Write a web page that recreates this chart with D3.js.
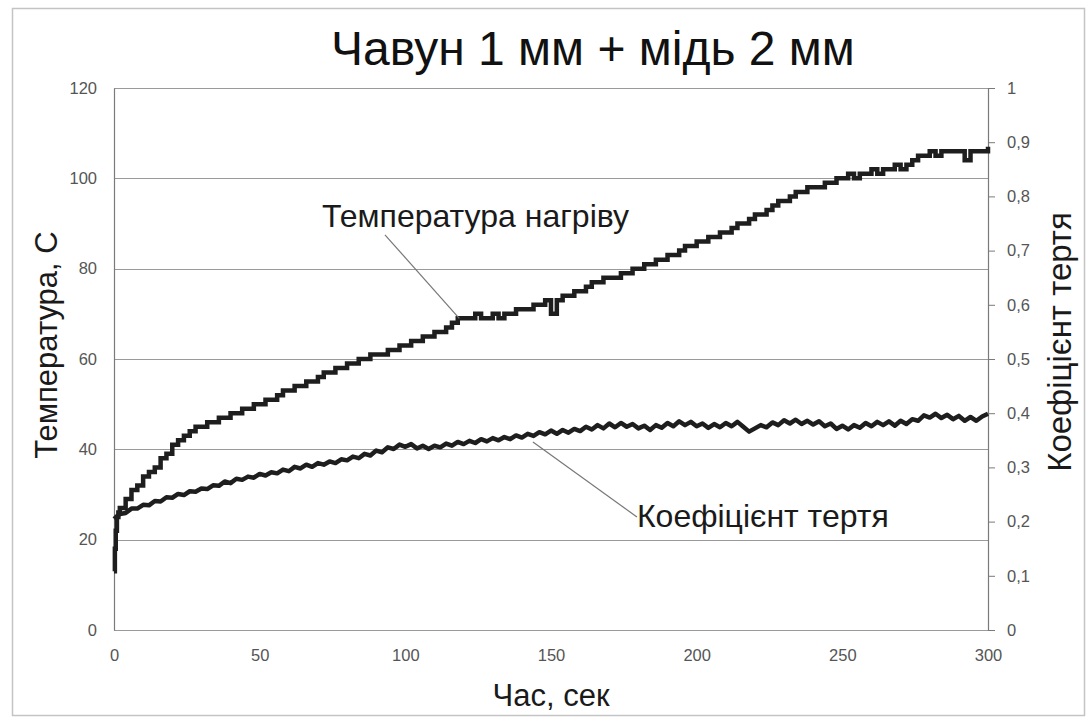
<!DOCTYPE html>
<html>
<head>
<meta charset="utf-8">
<script src="https://cdn.jsdelivr.net/npm/d3@7"></script>
<style>
  html, body { margin: 0; padding: 0; background: #fff; }
  svg { display: block; }
  text { font-family: "Liberation Sans", Arial, sans-serif; }
</style>
</head>
<body>
<script>
// ---- data ----
const chartTitle = "Чавун 1 мм + мідь 2 мм";
const xTitle = "Час, сек";
const yLeftTitle = "Температура, С";
const yRightTitle = "Коефіцієнт тертя";
const tempLabel = "Температура нагріву";
const coefLabel = "Коефіцієнт тертя";

const xTicks = [0, 50, 100, 150, 200, 250, 300];
const leftTicks = [0, 20, 40, 60, 80, 100, 120];
const rightTicks = [0, 0.1, 0.2, 0.3, 0.4, 0.5, 0.6, 0.7, 0.8, 0.9, 1];

// temperature (°C), time in seconds
const tempTimes = [0, 0.3, 0.6, 1, 1.5].concat(d3.range(2, 301, 2));
const temperature = [
  13, 18, 22, 25, 26,
  27, 29, 31, 32, 34, 35, 36, 38, 39, 41,
  42, 43, 44, 45, 45, 46, 46, 47, 47, 48,
  48, 49, 49, 50, 50, 51, 51, 52, 53, 53,
  54, 54, 55, 55, 56, 57, 57, 58, 58, 59,
  59, 60, 60, 61, 61, 61, 62, 62, 63, 63,
  64, 64, 65, 65, 66, 66, 67, 68, 69, 69,
  69, 70, 69, 69, 70, 69, 70, 70, 71, 71,
  71, 72, 72, 73, 70, 73, 74, 74, 75, 75,
  76, 77, 77, 78, 78, 78, 79, 79, 80, 80,
  81, 81, 82, 82, 83, 83, 84, 85, 85, 86,
  86, 87, 87, 88, 88, 89, 90, 90, 91, 92,
  92, 93, 94, 95, 95, 96, 97, 97, 98, 98,
  98, 99, 99, 100, 100, 101, 100, 101, 101, 102,
  101, 102, 102, 103, 102, 103, 104, 105, 105, 106,
  105, 106, 106, 106, 106, 104, 106, 106, 106, 107
];

// friction coefficient, every 2 s from 0 to 300
const coefTimes = d3.range(0, 301, 2);
const coefficient = [
  0.205, 0.214, 0.216, 0.224, 0.224, 0.231, 0.230, 0.238, 0.237, 0.245,
  0.244, 0.251, 0.249, 0.256, 0.255, 0.261, 0.260, 0.267, 0.266, 0.274,
  0.271, 0.279, 0.277, 0.283, 0.281, 0.288, 0.285, 0.291, 0.289, 0.296,
  0.293, 0.301, 0.298, 0.305, 0.301, 0.308, 0.305, 0.311, 0.308, 0.315,
  0.313, 0.320, 0.317, 0.325, 0.322, 0.331, 0.328, 0.337, 0.334, 0.342,
  0.338, 0.343, 0.335, 0.340, 0.334, 0.340, 0.337, 0.344, 0.340, 0.347,
  0.343, 0.349, 0.345, 0.352, 0.348, 0.354, 0.350, 0.356, 0.352, 0.359,
  0.355, 0.362, 0.358, 0.365, 0.361, 0.368, 0.362, 0.369, 0.364, 0.371,
  0.367, 0.375, 0.370, 0.378, 0.372, 0.381, 0.374, 0.382, 0.375, 0.380,
  0.372, 0.377, 0.369, 0.378, 0.373, 0.382, 0.376, 0.385, 0.378, 0.384,
  0.376, 0.381, 0.373, 0.380, 0.374, 0.382, 0.376, 0.384, 0.375, 0.366,
  0.372, 0.378, 0.374, 0.383, 0.378, 0.387, 0.381, 0.388, 0.380, 0.386,
  0.379, 0.385, 0.376, 0.381, 0.371, 0.377, 0.370, 0.378, 0.373, 0.382,
  0.376, 0.384, 0.378, 0.385, 0.377, 0.386, 0.380, 0.389, 0.386, 0.396,
  0.392, 0.399, 0.391, 0.397, 0.389, 0.395, 0.386, 0.393, 0.386, 0.394,
  0.399
];

// annotation anchors (data units)
const tempAnno = { textT: 71.4, textV: 89.2, fromT: 93, fromV: 87.5, toT: 118.5, toV: 69 };
const coefAnno = { textT: 179.5, textV: 0.19, fromT: 179.5, fromV: 0.2085, toT: 143.8, toV: 0.347 };

// ---- chart ----
const W = 1090, H = 720;
const M = { top: 88, right: 102, bottom: 90, left: 114 };

const svg = d3.select("body").append("svg").attr("width", W).attr("height", H);

svg.append("rect").attr("x", 12.5).attr("y", 8.5).attr("width", 1072).attr("height", 707)
  .attr("fill", "#fff").attr("stroke", "#c4c4c4").attr("stroke-width", 1.5);

const x = d3.scaleLinear().domain([0, 300]).range([M.left, W - M.right]);
const yL = d3.scaleLinear().domain([0, 120]).range([H - M.bottom, M.top]);
const yR = d3.scaleLinear().domain([0, 1]).range([H - M.bottom, M.top]);

// gridlines
svg.append("g").selectAll("line").data(leftTicks).join("line")
  .attr("x1", x(0)).attr("x2", x(300))
  .attr("y1", d => Math.round(yL(d)) + 0.5).attr("y2", d => Math.round(yL(d)) + 0.5)
  .attr("stroke", "#9a9a9a").attr("stroke-width", 1.2);

// axes
const axL = svg.append("g").attr("transform", `translate(${M.left},0)`)
  .call(d3.axisLeft(yL).tickValues(leftTicks).tickSize(0).tickPadding(17));
const axB = svg.append("g").attr("transform", `translate(0,${H - M.bottom})`)
  .call(d3.axisBottom(x).tickValues(xTicks).tickSize(0).tickPadding(19));
const axR = svg.append("g").attr("transform", `translate(${W - M.right},0)`)
  .call(d3.axisRight(yR).tickValues(rightTicks).tickSize(7).tickPadding(12)
    .tickFormat(d => String(d).replace(".", ",")));

[axL, axB, axR].forEach(g => {
  g.selectAll("text").attr("fill", "#555").style("font-size", "16.5px")
    .style("font-family", "'Liberation Sans', Arial, sans-serif");
  g.select(".domain").attr("stroke", "#7a7a7a").attr("stroke-width", 1.2);
  g.selectAll(".tick line").attr("stroke", "#7a7a7a");
});
axB.select(".domain").remove();

// series
const tempLine = d3.line().x((d, i) => x(tempTimes[i])).y(d => yL(d)).curve(d3.curveStepAfter);
svg.append("path").datum(temperature).attr("d", tempLine)
  .attr("fill", "none").attr("stroke", "#1e1e1e").attr("stroke-width", 4.5).attr("stroke-linejoin", "miter");

const coefLine = d3.line().x((d, i) => x(coefTimes[i])).y(d => yR(d));
svg.append("path").datum(coefficient).attr("d", coefLine)
  .attr("fill", "none").attr("stroke", "#1e1e1e").attr("stroke-width", 4.5).attr("stroke-linejoin", "round");

// annotations
svg.append("line").attr("x1", x(tempAnno.fromT)).attr("y1", yL(tempAnno.fromV))
  .attr("x2", x(tempAnno.toT)).attr("y2", yL(tempAnno.toV)).attr("stroke", "#777").attr("stroke-width", 1.2);
svg.append("text").attr("x", x(tempAnno.textT)).attr("y", yL(tempAnno.textV))
  .attr("fill", "#1a1a1a").style("font-size", "32px").text(tempLabel);

svg.append("line").attr("x1", x(coefAnno.fromT)).attr("y1", yR(coefAnno.fromV))
  .attr("x2", x(coefAnno.toT)).attr("y2", yR(coefAnno.toV)).attr("stroke", "#777").attr("stroke-width", 1.2);
svg.append("text").attr("x", x(coefAnno.textT)).attr("y", yR(coefAnno.textV))
  .attr("fill", "#1a1a1a").style("font-size", "32px").text(coefLabel);

// titles
svg.append("text").attr("x", 593).attr("y", 65).attr("text-anchor", "middle")
  .attr("fill", "#111").style("font-size", "48px").text(chartTitle);
svg.append("text").attr("x", 551).attr("y", 706).attr("text-anchor", "middle")
  .attr("fill", "#1a1a1a").style("font-size", "31px").text(xTitle);
svg.append("text").attr("transform", "translate(57,345) rotate(-90)").attr("text-anchor", "middle")
  .attr("fill", "#1a1a1a").style("font-size", "31px").text(yLeftTitle);
svg.append("text").attr("transform", "translate(1071,342) rotate(-90)").attr("text-anchor", "middle")
  .attr("fill", "#1a1a1a").style("font-size", "33px").text(yRightTitle);
</script>
</body>
</html>
